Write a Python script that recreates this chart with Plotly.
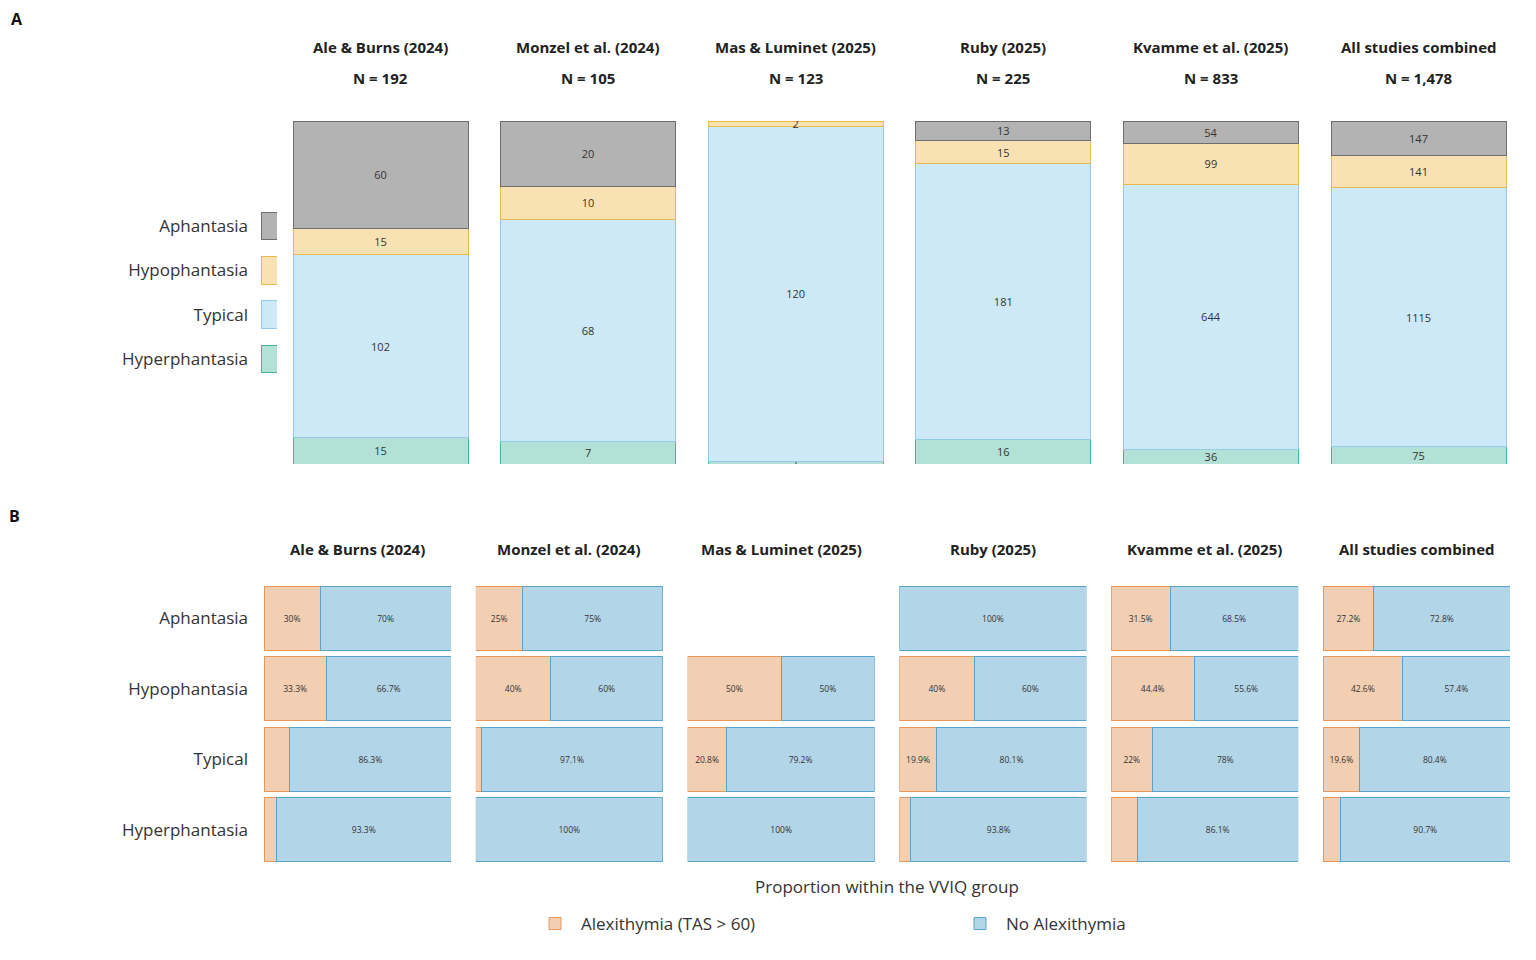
import plotly.graph_objects as go

# page body has an 8px margin, so the figure is drawn 8px in from the window edge
OFF = 8
W, H = 1536 - 2 * OFF, 960 - 2 * OFF

studies = ["Ale & Burns (2024)", "Monzel et al. (2024)", "Mas & Luminet (2025)",
           "Ruby (2025)", "Kvamme et al. (2025)", "All studies combined"]
n_labels = ["N = 192", "N = 105", "N = 123", "N = 225", "N = 833", "N = 1,478"]
groups = ["Aphantasia", "Hypophantasia", "Typical", "Hyperphantasia"]

# Panel A: counts per VVIQ group
aph_counts = [60, 20, 0, 13, 54, 147]
hypo_counts = [15, 10, 2, 15, 99, 141]
typical_counts = [102, 68, 120, 181, 644, 1115]
hyper_counts = [15, 7, 1, 16, 36, 75]

# Panel B: % with alexithymia (TAS > 60) within each VVIQ group (Aph, Hypo, Typical, Hyper)
alex_ale = [30, 33.3, 13.7, 6.7]
alex_monzel = [25, 40, 2.9, 0]
alex_mas = [None, 50, 20.8, 0]
alex_ruby = [0, 40, 19.9, 6.2]
alex_kvamme = [31.5, 44.4, 22, 13.9]
alex_all = [27.2, 42.6, 19.6, 9.3]
alex_by_study = [alex_ale, alex_monzel, alex_mas, alex_ruby, alex_kvamme, alex_all]

FONT = "Open Sans, Lato, sans-serif"
TXT = "#333333"

fillA = {"Aphantasia": "#b3b3b3", "Hypophantasia": "#f8e2b4", "Typical": "#cde8f6", "Hyperphantasia": "#b3e1d5"}
lineA = {"Aphantasia": "#6e6e6e", "Hypophantasia": "#e8b94e", "Typical": "#93cbe8", "Hyperphantasia": "#46b596"}
alex_fill, alex_line = "#f2cfb3", "#e8975a"
no_fill, no_line = "#b3d5e8", "#5aa3cc"


def px_x(p):
    return (p - OFF) / W


def px_y(p):
    return 1 - (p - OFF) / H


fig = go.Figure()

# ---------- Panel A ----------
seriesA = [("Hyperphantasia", hyper_counts), ("Typical", typical_counts),
           ("Hypophantasia", hypo_counts), ("Aphantasia", aph_counts)]
for name, vals in seriesA:
    fig.add_trace(go.Bar(
        x=studies, y=[v if v > 0 else None for v in vals],
        text=[str(v) if v > 0 else "" for v in vals],
        textposition="inside", insidetextanchor="middle", constraintext="none",
        textangle=0, textfont=dict(size=11, color=TXT, family=FONT),
        marker=dict(color=fillA[name], line=dict(color=lineA[name], width=1)),
        name=name, showlegend=False, xaxis="x", yaxis="y", hoverinfo="skip"))

# Panel A legend as a mini-axis of swatches
fig.add_trace(go.Bar(
    y=groups, x=[1] * 4, orientation="h", width=0.62,
    marker=dict(color=[fillA[g] for g in groups], line=dict(color=[lineA[g] for g in groups], width=1)),
    showlegend=False, xaxis="x2", yaxis="y2", hoverinfo="skip"))

# ---------- Panel B ----------
for i, alex in enumerate(alex_by_study):
    xa = "x%d" % (i + 3)
    ya = "y%d" % (i + 3)
    no = [None if a is None else round(100 - a, 1) for a in alex]
    al = [None if (a is None or a == 0) else a for a in alex]
    fig.add_trace(go.Bar(
        y=groups, x=al, orientation="h", width=0.906,
        text=["%g%%" % a if (a is not None and a >= 15) else "" for a in al],
        textposition="inside", insidetextanchor="middle", constraintext="none", textangle=0,
        textfont=dict(size=8.5, color=TXT, family=FONT),
        marker=dict(color=alex_fill, line=dict(color=alex_line, width=1)),
        name="Alexithymia (TAS > 60)", showlegend=(i == 0), legendgroup="alex",
        xaxis=xa, yaxis=ya, hoverinfo="skip"))
    fig.add_trace(go.Bar(
        y=groups, x=[None if (v is None or v == 0) else v for v in no], orientation="h", width=0.906,
        text=["%g%%" % v if (v is not None and v >= 15) else "" for v in no],
        textposition="inside", insidetextanchor="middle", constraintext="none", textangle=0,
        textfont=dict(size=8.5, color=TXT, family=FONT),
        marker=dict(color=no_fill, line=dict(color=no_line, width=1)),
        name="No Alexithymia", showlegend=(i == 0), legendgroup="no",
        xaxis=xa, yaxis=ya, hoverinfo="skip"))

layout = dict(
    width=W, height=H, margin=dict(l=0, r=0, t=0, b=0),
    paper_bgcolor="white", plot_bgcolor="white",
    font=dict(family=FONT, color=TXT),
    barmode="stack", barnorm="fraction", bargap=0.157,
    showlegend=True,
    legend=dict(orientation="h", x=px_x(529), y=px_y(924), xanchor="left", yanchor="middle",
                entrywidth=368, entrywidthmode="pixels", itemwidth=42,
                font=dict(size=17, color=TXT, family=FONT),
                traceorder="normal"),
)

# Panel A axes
layout["xaxis"] = dict(domain=[px_x(276.7), px_x(1522.3)], visible=False, anchor="y",
                       categoryorder="array", categoryarray=studies)
layout["yaxis"] = dict(domain=[px_y(464), px_y(121)], range=[0, 1], visible=False, anchor="x")
layout["xaxis2"] = dict(domain=[px_x(261), px_x(277)], range=[0, 1], visible=False, anchor="y2")
layout["yaxis2"] = dict(domain=[px_y(381.3), px_y(203.7)], anchor="x2",
                        categoryorder="array", categoryarray=groups[::-1],
                        showgrid=False, zeroline=False, showline=False, ticks="",
                        ticklabelstandoff=12, tickfont=dict(size=17, color=TXT, family=FONT))

# Panel B axes
col0, step, cw = 264, 211.8, 187
for i in range(6):
    n = i + 3
    x0 = col0 + step * i
    layout["xaxis%d" % n] = dict(domain=[px_x(x0), px_x(x0 + cw)], range=[0, 1], visible=False,
                                 anchor="y%d" % n)
    layout["yaxis%d" % n] = dict(domain=[px_y(865.3), px_y(582.7)], anchor="x%d" % n,
                                 categoryorder="array", categoryarray=groups[::-1],
                                 showgrid=False, zeroline=False, showline=False, ticks="",
                                 showticklabels=(i == 0), ticklabelstandoff=15,
                                 tickfont=dict(size=17, color=TXT, family=FONT))
fig.update_layout(**layout)

annotations = []
C = dict(xanchor="center", yanchor="middle", showarrow=False)
# panel letters
annotations.append(dict(text="<b>A</b>", x=px_x(17), y=px_y(19), xref="paper", yref="paper",
                        font=dict(size=16, color="#111", family=FONT), **C))
annotations.append(dict(text="<b>B</b>", x=px_x(15), y=px_y(516), xref="paper", yref="paper",
                        font=dict(size=16, color="#111", family=FONT), **C))
for s, nl in zip(studies, n_labels):
    annotations.append(dict(text="<b>%s</b>" % s, x=s, y=px_y(47), xref="x", yref="paper",
                            font=dict(size=15, color="#222", family=FONT), **C))
    annotations.append(dict(text="<b>%s</b>" % nl, x=s, y=px_y(78), xref="x", yref="paper",
                            font=dict(size=15, color="#222", family=FONT), **C))
for i, s in enumerate(studies):
    annotations.append(dict(text="<b>%s</b>" % s, x=0.5, y=px_y(549), xref="x%d domain" % (i + 3),
                            yref="paper", font=dict(size=15, color="#222", family=FONT), **C))
annotations.append(dict(text="Proportion within the VVIQ group", x=px_x(887), y=px_y(886),
                        xref="paper", yref="paper",
                        font=dict(size=17, color=TXT, family=FONT), **C))
fig.update_layout(annotations=annotations)

fig.write_html("out.html")
